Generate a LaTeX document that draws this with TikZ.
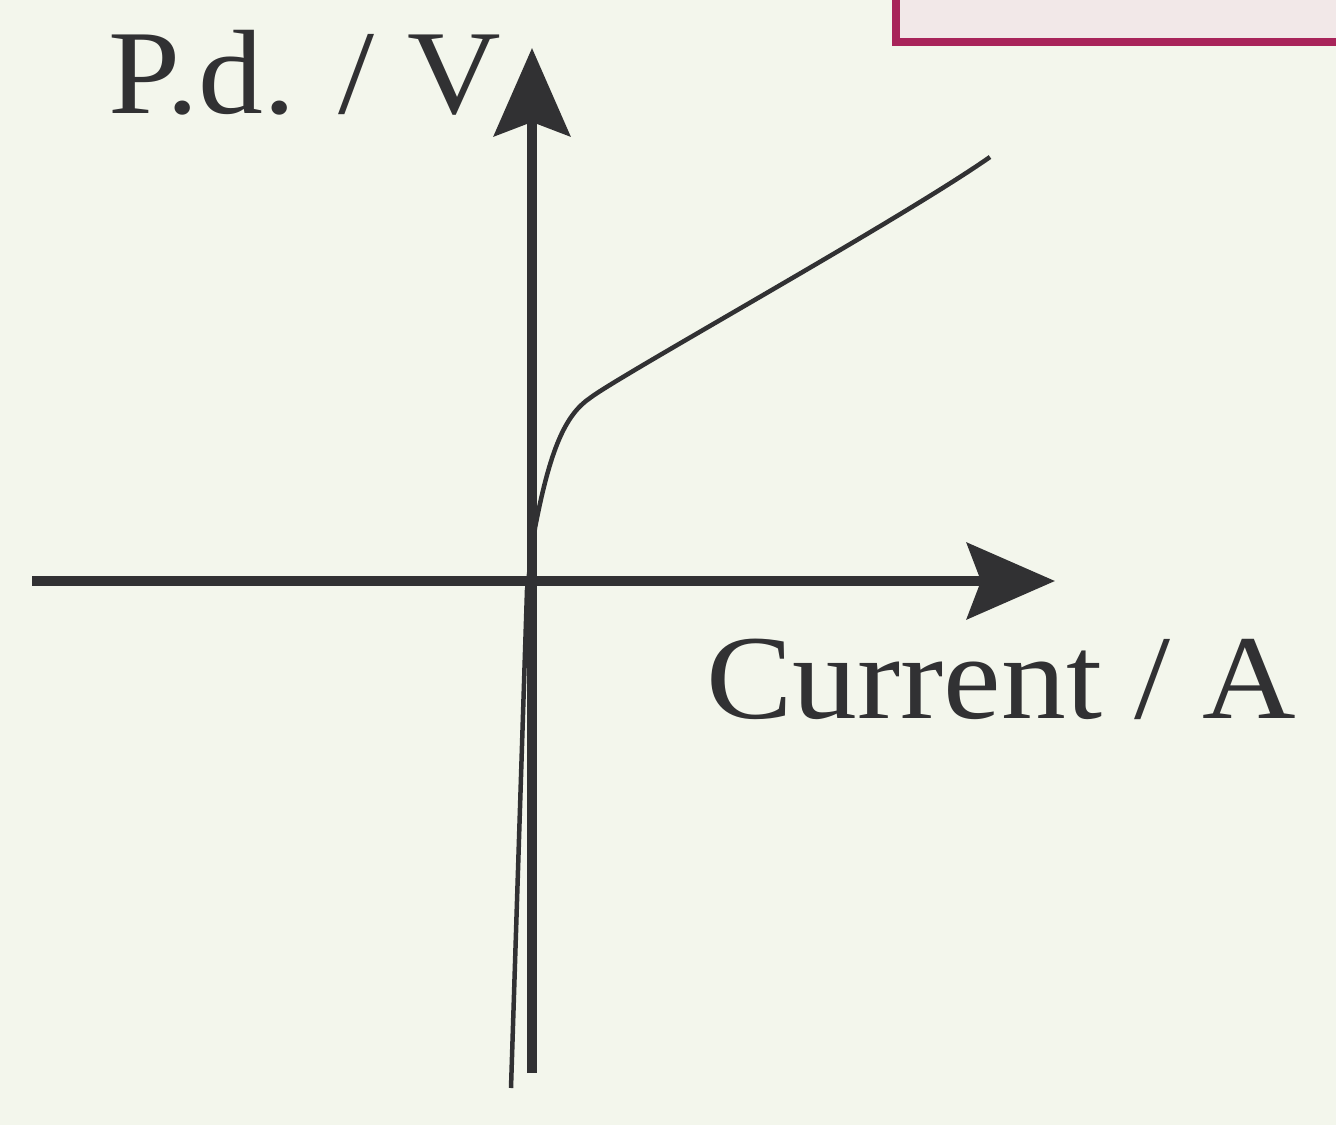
\documentclass[tikz,border=0pt]{standalone}
\usepackage{fontspec}
\setmainfont{Liberation Serif}
\usetikzlibrary{arrows.meta}
\definecolor{bg}{HTML}{F3F6EC}
\definecolor{ink}{HTML}{313133}
\definecolor{boxf}{HTML}{F2E8E8}
\definecolor{boxd}{HTML}{A8245A}
\tikzset{axis/.style={ink,line width=10pt,-{Stealth[length=88pt,width=76pt,inset=14pt]}},
curve/.style={ink,line width=4.5pt},
lab/.style={ink,anchor=base west,inner sep=0pt,xscale=1.08,font=\fontsize{120}{120}\selectfont}}
\begin{document}
\begin{tikzpicture}[x=1pt,y=-1pt]
\fill[bg] (0,0) rectangle (1336,1125);
\useasboundingbox (0,0) rectangle (1336,1125);
\draw[boxd,fill=boxf,line width=8pt] (896,-20) rectangle (1360,42);
\coordinate (xs) at (32,581); \coordinate (xe) at (1055,581);
\coordinate (ys) at (532,1073); \coordinate (ye) at (532,48);
\draw[axis] (xs) -- (xe);
\draw[axis] (ys) -- (ye);
\coordinate (c0) at (511,1088);
\coordinate (c1) at (527,590);
\coordinate (c2) at (535,528);
\coordinate (c3) at (590,398);
\coordinate (c4) at (990,157);
\draw[curve] (c0) -- (c1) -- (c2) .. controls (550,450) and (565,415) .. (c3) .. controls (620,375) and (900,220) .. (c4);
\node[lab] (py) at (108,113) {P.d. / V};
\node[lab] (px) at (706,718) {Current / A};
\end{tikzpicture}
\end{document}
